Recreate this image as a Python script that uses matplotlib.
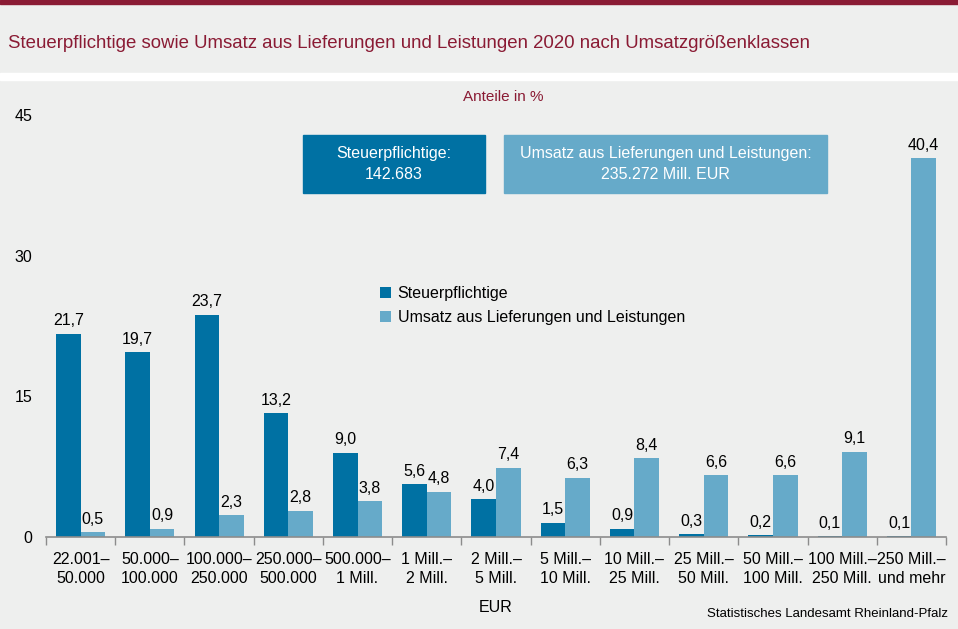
import matplotlib
matplotlib.use("Agg")
import matplotlib.pyplot as plt
from matplotlib.patches import Rectangle
import numpy as np

plt.rcParams['font.family'] = ['Liberation Sans', 'DejaVu Sans']

categories = ["22.001–\n50.000", "50.000–\n100.000", "100.000–\n250.000", "250.000–\n500.000",
              "500.000–\n1 Mill.", "1 Mill.–\n2 Mill.", "2 Mill.–\n5 Mill.", "5 Mill.–\n10 Mill.",
              "10 Mill.–\n25 Mill.", "25 Mill.–\n50 Mill.", "50 Mill.–\n100 Mill.",
              "100 Mill.–\n250 Mill.", "250 Mill.–\nund mehr"]
steuerpflichtige = [21.7, 19.7, 23.7, 13.2, 9.0, 5.6, 4.0, 1.5, 0.9, 0.3, 0.2, 0.1, 0.1]
umsatz = [0.5, 0.9, 2.3, 2.8, 3.8, 4.8, 7.4, 6.3, 8.4, 6.6, 6.6, 9.1, 40.4]
yticks = [0, 15, 30, 45]

DARK = "#0071A3"
LIGHT = "#66AAC9"
BG = "#EEEFEE"
RED = "#8A1B34"

W, H = 958, 629
fig = plt.figure(figsize=(W / 100, H / 100), dpi=100)
fig.patch.set_facecolor(BG)

def fx(px):
    return px / W

def fy(py):
    return 1 - py / H

# top bar and white band
fig.patches.append(Rectangle((0, fy(4)), 1, 4 / H, transform=fig.transFigure, color=RED, zorder=0))
fig.patches.append(Rectangle((0, fy(80)), 1, 7 / H, transform=fig.transFigure, color="white", zorder=0))

fig.text(fx(8), fy(44), "Steuerpflichtige sowie Umsatz aus Lieferungen und Leistungen 2020 nach Umsatzgrößenklassen",
         color=RED, fontsize=13.4, va="center", ha="left")
fig.text(fx(503), fy(97), "Anteile in %", color=RED, fontsize=11, va="center", ha="center")

ax = fig.add_axes([fx(46), fy(537), fx(946) - fx(46), fy(115) - fy(537)])
ax.set_facecolor("none")
x = np.arange(len(categories))
bw = 0.355
ax.bar(x - bw / 2, steuerpflichtige, bw, color=DARK, label="Steuerpflichtige")
ax.bar(x + bw / 2, umsatz, bw, color=LIGHT, label="Umsatz aus Lieferungen und Leistungen")

def fmt(v):
    return f"{v:.1f}".replace(".", ",")

for xi, v in zip(x, steuerpflichtige):
    ax.annotate(fmt(v), (xi - bw / 2, v), xytext=(0, 4), textcoords="offset points",
                ha="center", va="bottom", fontsize=11.5)
for xi, v in zip(x, umsatz):
    ax.annotate(fmt(v), (xi + bw / 2, v), xytext=(0, 4), textcoords="offset points",
                ha="center", va="bottom", fontsize=11.5)

ax.set_xlim(-0.5, len(categories) - 0.5)
ax.set_ylim(0, 45)
ax.set_yticks(yticks)
ax.set_yticklabels([str(t) for t in yticks], fontsize=11.5)
ax.tick_params(axis="y", length=0, pad=10)
ax.set_xticks(x)
ax.set_xticklabels(categories, fontsize=11.5, linespacing=1.3)
ax.tick_params(axis="x", length=0, pad=11)
ax.set_xticks(np.arange(-0.5, len(categories)), minor=True)
ax.tick_params(axis="x", which="minor", length=6, color="#8C8C8C", width=1)
for s in ["top", "right", "left"]:
    ax.spines[s].set_visible(False)
ax.spines["bottom"].set_color("#8C8C8C")
ax.spines["bottom"].set_linewidth(1.2)

ax.legend(loc="upper left", bbox_to_anchor=(fx(372), fy(278)), bbox_transform=fig.transFigure,
          frameon=False, fontsize=11.5, handlelength=0.7, handleheight=0.7, handletextpad=0.4,
          labelspacing=0.55, borderpad=0)

# info boxes
def box(x0, x1, y0, y1, color, txt):
    fig.patches.append(Rectangle((fx(x0), fy(y1)), fx(x1) - fx(x0), (y1 - y0) / H,
                                 transform=fig.transFigure, color=color, zorder=1))
    fig.text(fx((x0 + x1) / 2), fy((y0 + y1) / 2), txt, color="white", fontsize=11.5,
             ha="center", va="center", linespacing=1.5, zorder=2)

box(303, 485, 135, 193, DARK, "Steuerpflichtige:\n142.683")
box(504, 827, 135, 193, LIGHT, "Umsatz aus Lieferungen und Leistungen:\n235.272 Mill. EUR")

fig.text(fx(496), fy(607), "EUR", fontsize=11.5, ha="center", va="center")
fig.text(fx(948), fy(614), "Statistisches Landesamt Rheinland-Pfalz", fontsize=9.5, ha="right", va="center")

fig.savefig("out.png", dpi=100, facecolor=BG)
